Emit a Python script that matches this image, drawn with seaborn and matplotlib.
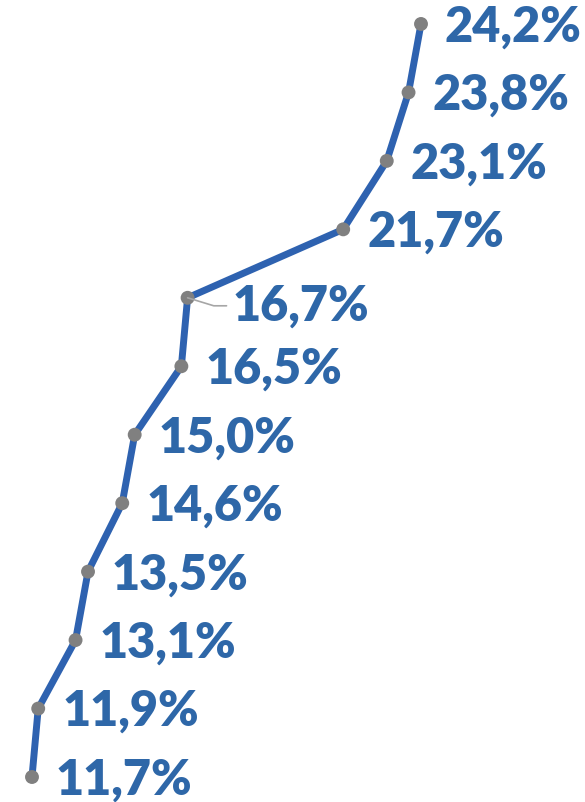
import matplotlib
matplotlib.use("Agg")
import matplotlib.pyplot as plt
import seaborn as sns
import pandas as pd

values = [11.7, 11.9, 13.1, 13.5, 14.6, 15.0, 16.5, 16.7, 21.7, 23.1, 23.8, 24.2]
labels = ["11,7%", "11,9%", "13,1%", "13,5%", "14,6%", "15,0%",
          "16,5%", "16,7%", "21,7%", "23,1%", "23,8%", "24,2%"]
positions = list(range(len(values)))

df = pd.DataFrame({"value": values, "pos": positions, "label": labels})

sns.set_style("white")
plt.rcParams['font.family'] = ['Lato', 'DejaVu Sans']

fig = plt.figure(figsize=(5.85, 8.02), dpi=100)
ax = fig.add_axes([0, 0, 1, 1])

line_color = "#2E62B0"
text_color = "#2E67A8"
marker_color = "#808080"

sns.lineplot(data=df, x="value", y="pos", sort=False, ax=ax,
             color=line_color, linewidth=5.0, zorder=2)
sns.scatterplot(data=df, x="value", y="pos", ax=ax, color=marker_color,
                s=100, edgecolor="none", zorder=3)

px = 72 / 100.0
for i, row in df.iterrows():
    if row["label"] == "16,7%":
        ax.annotate(row["label"], xy=(row["value"], row["pos"]),
                    xytext=(45 * px, -8 * px), textcoords="offset points",
                    ha="left", va="center", fontsize=35, fontweight="heavy",
                    color=text_color, zorder=4,
                    arrowprops=dict(arrowstyle="-", color="#A6A6A6", lw=1.2,
                                    shrinkA=2, shrinkB=0,
                                    connectionstyle="angle,angleA=0,angleB=-17,rad=0"))
    else:
        ax.annotate(row["label"], xy=(row["value"], row["pos"]),
                    xytext=(24 * px, -3 * px), textcoords="offset points",
                    ha="left", va="center", fontsize=35, fontweight="heavy",
                    color=text_color, zorder=4)

ax.set_xlim(10.672, 29.47)
ax.set_ylim(-0.365, 11.35)
ax.axis("off")

fig.savefig("out.png", dpi=100)
